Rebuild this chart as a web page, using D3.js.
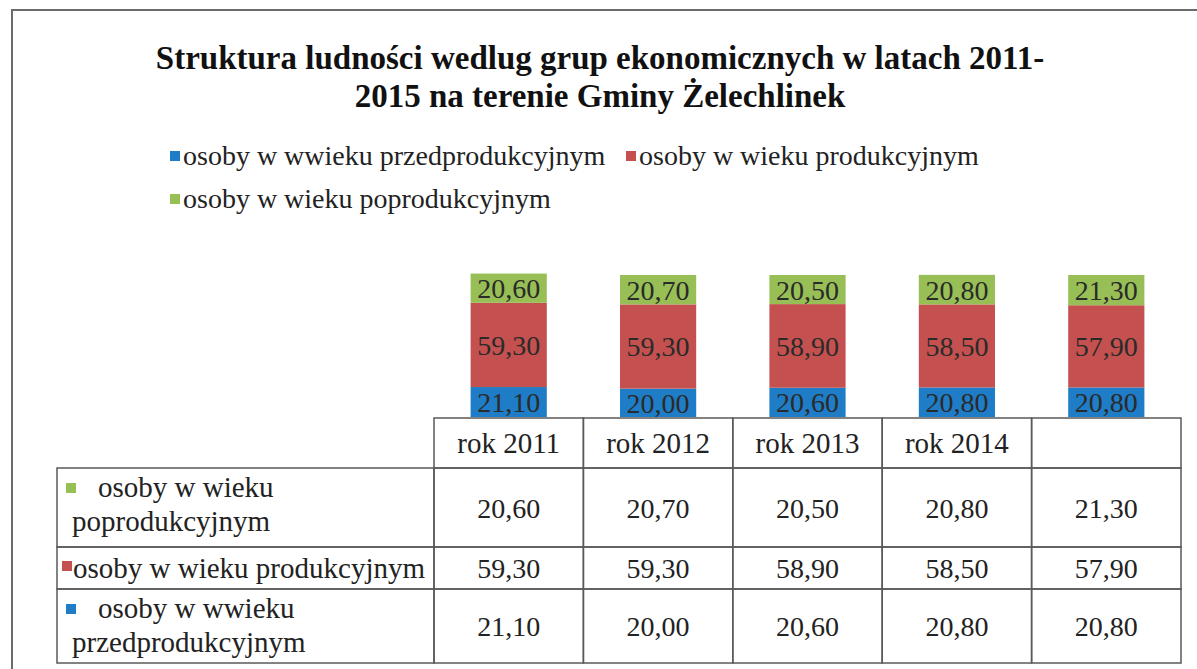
<!DOCTYPE html>
<html>
<head>
<meta charset="utf-8">
<script src="https://cdn.jsdelivr.net/npm/d3@7/dist/d3.min.js"></script>
<style>
  body { margin: 0; background: #fff; }
</style>
</head>
<body>
<script>
// data
var yearKeys = ["2011", "2012", "2013", "2014", "2015"];
var headerLabels = ["rok 2011", "rok 2012", "rok 2013", "rok 2014", ""];
var przedprod = [21.10, 20.00, 20.60, 20.80, 20.80];
var prod = [59.30, 59.30, 58.90, 58.50, 57.90];
var poprod = [20.60, 20.70, 20.50, 20.80, 21.30];

var seriesKeys = ["przed", "prod", "popr"];
var legendNames = ["osoby w wwieku przedprodukcyjnym", "osoby w wieku produkcyjnym", "osoby w wieku poprodukcyjnym"];
var colors = ["#1f7cc6", "#c4514f", "#97bf56"];

var titleLines = ["Struktura ludności wedlug grup ekonomicznych w latach 2011-", "2015 na terenie Gminy Żelechlinek"];

var width = 1197, height = 669;
var serif = "'Liberation Serif', 'DejaVu Serif', 'Times New Roman', Times, serif";

var fmt = function(v) { return v.toFixed(2).replace(".", ","); };

var rows = yearKeys.map(function(k, i) {
    return { year: k, przed: przedprod[i], prod: prod[i], popr: poprod[i] };
});

var svg = d3.select("body").append("svg")
    .attr("width", width)
    .attr("height", height)
    .style("font-family", serif);

// frame
svg.append("path")
    .attr("d", "M12," + height + "V10H" + width)
    .attr("fill", "none")
    .attr("stroke", "#6b6b6b")
    .attr("stroke-width", 2);

// title
svg.selectAll(".title")
    .data(titleLines)
    .enter()
    .append("text")
    .attr("class", "title")
    .attr("x", 600)
    .attr("y", function(d, i) { return 69 + i * 38; })
    .attr("text-anchor", "middle")
    .attr("font-size", 33)
    .attr("font-weight", "bold")
    .attr("fill", "#111")
    .text(function(d) { return d; });

// legend
var legendPos = [[170, 165], [626, 165], [170, 208]];
var legend = svg.append("g");
var li = legend.selectAll("g")
    .data(legendNames)
    .enter()
    .append("g")
    .attr("transform", function(d, i) { return "translate(" + legendPos[i][0] + "," + legendPos[i][1] + ")"; });
li.append("rect")
    .attr("x", 0).attr("y", -14)
    .attr("width", 10).attr("height", 10)
    .attr("fill", function(d, i) { return colors[i]; });
li.append("text")
    .attr("x", 13)
    .attr("font-size", 28)
    .attr("fill", "#222")
    .text(function(d) { return d; });

// scales
var tableLeft = 57, colLeft = 434, tableRight = 1181;
var xCol = d3.scaleBand().domain(yearKeys).range([colLeft, tableRight]).padding(0);
var xBar = d3.scaleBand().domain(yearKeys).range([colLeft, tableRight])
    .paddingInner(0.49).paddingOuter(0.245);
var y = d3.scaleLinear().domain([0, 100]).range([417, 275]);

var stacked = d3.stack().keys(seriesKeys)(rows);

var layers = svg.append("g").selectAll("g")
    .data(stacked)
    .enter()
    .append("g")
    .attr("fill", function(d, i) { return colors[i]; });

layers.selectAll("rect")
    .data(function(d) { return d; })
    .enter()
    .append("rect")
    .attr("x", function(d) { return xBar(d.data.year); })
    .attr("y", function(d) { return y(d[1]); })
    .attr("width", xBar.bandwidth())
    .attr("height", function(d) { return y(d[0]) - y(d[1]); });

layers.selectAll("text")
    .data(function(d) { return d; })
    .enter()
    .append("text")
    .attr("x", function(d) { return xBar(d.data.year) + xBar.bandwidth() / 2; })
    .attr("y", function(d) { return (y(d[0]) + y(d[1])) / 2 + 10; })
    .attr("text-anchor", "middle")
    .attr("font-size", 28)
    .attr("fill", "#2a2a2a")
    .text(function(d) { return fmt(d[1] - d[0]); });

// data table
var rowTops = [418, 468, 547, 589, 663];
var tableRows = [
    { color: colors[2], label: ["osoby w wieku", "poprodukcyjnym"], values: poprod },
    { color: colors[1], label: ["osoby w wieku produkcyjnym"], values: prod },
    { color: colors[0], label: ["osoby w wwieku", "przedprodukcyjnym"], values: przedprod }
];

var grid = svg.append("g")
    .attr("stroke", "#5a5a5a")
    .attr("stroke-width", 1.5)
    .attr("fill", "none");

// header cells
grid.selectAll(".hcell")
    .data(yearKeys)
    .enter()
    .append("rect")
    .attr("x", function(d) { return xCol(d); })
    .attr("y", rowTops[0])
    .attr("width", xCol.bandwidth())
    .attr("height", rowTops[1] - rowTops[0]);

// body rows
tableRows.forEach(function(r, ri) {
    var top = rowTops[ri + 1], bottom = rowTops[ri + 2];
    grid.append("rect")
        .attr("x", tableLeft).attr("y", top)
        .attr("width", colLeft - tableLeft).attr("height", bottom - top);
    grid.selectAll(".c" + ri)
        .data(yearKeys)
        .enter()
        .append("rect")
        .attr("x", function(d) { return xCol(d); })
        .attr("y", top)
        .attr("width", xCol.bandwidth())
        .attr("height", bottom - top);
});

svg.selectAll(".htext")
    .data(headerLabels)
    .enter()
    .append("text")
    .attr("x", function(d, i) { return xCol(yearKeys[i]) + xCol.bandwidth() / 2; })
    .attr("y", 453)
    .attr("text-anchor", "middle")
    .attr("font-size", 29)
    .attr("fill", "#222")
    .text(function(d) { return d; });

tableRows.forEach(function(r, ri) {
    var top = rowTops[ri + 1], bottom = rowTops[ri + 2];
    var mid = (top + bottom) / 2;
    var two = r.label.length > 1;
    svg.append("rect")
        .attr("x", two ? 66 : 62)
        .attr("y", two ? top + 15 : mid - 7)
        .attr("width", 10).attr("height", 10)
        .attr("fill", r.color);
    var lab = svg.append("g").attr("font-size", 29).attr("fill", "#222");
    if (two) {
        lab.append("text").attr("x", 98).attr("y", top + 29).text(r.label[0]);
        lab.append("text").attr("x", 72).attr("y", top + 63).text(r.label[1]);
    } else {
        lab.append("text").attr("x", 73).attr("y", mid + 10).text(r.label[0]);
    }
    svg.selectAll(".v" + ri)
        .data(r.values)
        .enter()
        .append("text")
        .attr("x", function(d, i) { return xCol(yearKeys[i]) + xCol.bandwidth() / 2; })
        .attr("y", mid + 10)
        .attr("text-anchor", "middle")
        .attr("font-size", 28)
        .attr("fill", "#222")
        .text(function(d) { return fmt(d); });
});
</script>
</body>
</html>
